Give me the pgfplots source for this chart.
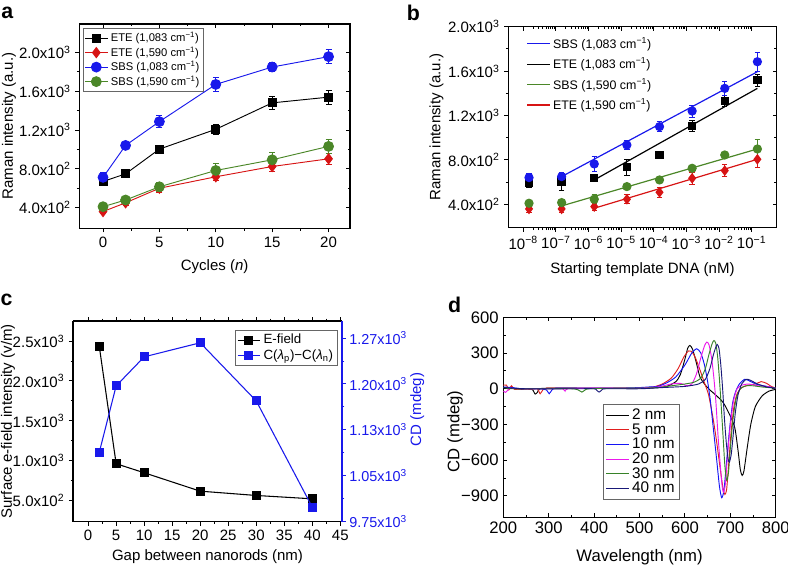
\documentclass[border=0pt]{standalone}
\usepackage{pgfplots}
\pgfplotsset{compat=1.18}
\usepackage{fontspec}
\setmainfont{Liberation Sans}
\definecolor{cred}{RGB}{215,20,20}
\definecolor{cblue}{RGB}{25,25,235}
\definecolor{cgreen}{RGB}{75,135,40}
\definecolor{dred}{RGB}{225,30,30}
\definecolor{dblue}{RGB}{20,20,245}
\definecolor{dmag}{RGB}{235,25,235}
\definecolor{dgreen}{RGB}{55,130,40}
\definecolor{dnavy}{RGB}{25,25,120}
\newcommand{\sups}[1]{\textsuperscript{#1}}
\newcommand{\fa}{\fontsize{11.25}{13.5}\selectfont}
\newcommand{\fd}{\fontsize{12.5}{15}\selectfont}
\pgfplotsset{
  base/.style={scale only axis, anchor=north west,
    /pgf/number format/assume math mode=true,
    major tick length=3pt, minor tick length=1.8pt,
    axis line style={line width=0.9pt},
    every tick/.style={black, line width=0.7pt},
    tick label style={font=\fa}, label style={font=\fa}},
  mirror/.style={base, xtick pos=right, ytick pos=right, tick align=inside,
    xticklabels={}, yticklabels={}, axis line style={draw=none}},
}
\begin{document}
\begin{tikzpicture}
\useasboundingbox (0,0) rectangle (591pt,-424.5pt);
% ---------------- panel a
\begin{axis}[base, at={(59.5pt,-18pt)}, width=203pt, height=153.2pt,
  xmin=-2.1, xmax=21.9, ymin=188, ymax=2291,
  xtick={0,5,10,15,20}, minor x tick num=1,
  ytick={400,800,1200,1600,2000}, minor y tick num=1,
  yticklabels={4.0x10\sups{2},8.0x10\sups{2},1.2x10\sups{3},1.6x10\sups{3},2.0x10\sups{3}},
  tick align=outside, xtick pos=left, ytick pos=left,
  xlabel={Cycles (\textit{n})}, ylabel={Raman intensity (a.u.)},
  xlabel style={at={(axis description cs:0.5,-0.189)}, anchor=center},
  ylabel style={at={(axis description cs:-0.26,0.5)}, anchor=center},
  legend style={at={(0.013,0.979)}, anchor=north west, font=\fontsize{8.4}{10}\selectfont,
    draw=black!60, inner sep=1pt, row sep=-1.5pt, cells={anchor=west}},
  every axis plot/.append style={line width=0.7pt},
  error bars/error bar style={line width=0.6pt},
  error bars/error mark options={rotate=90, mark size=2.2pt, line width=0.6pt},
]
\addplot[black, mark=square*, mark size=3pt, error bars/.cd, y dir=both, y explicit] coordinates {
 (0,670) +- (0,30) (2,748) +- (0,30) (5,1003) +- (0,40) (10,1207) +- (0,50) (15,1479) +- (0,70) (20,1538) +- (0,70)};
\addlegendentry{ETE (1,083 cm\sups{−1})}
\addplot[cred, mark=diamond*, mark size=3.8pt, error bars/.cd, y dir=both, y explicit] coordinates {
 (0,360) +- (0,20) (2,450) +- (0,25) (5,600) +- (0,40) (10,718) +- (0,40) (15,824) +- (0,50) (20,903) +- (0,60)};
\addlegendentry{ETE (1,590 cm\sups{−1})}
\addplot[cblue, mark=*, mark size=3.7pt, error bars/.cd, y dir=both, y explicit] coordinates {
 (0,712) +- (0,50) (2,1041) +- (0,35) (5,1286) +- (0,60) (10,1669) +- (0,70) (15,1848) +- (0,50) (20,1955) +- (0,70)};
\addlegendentry{SBS (1,083 cm\sups{−1})}
\addplot[cgreen, mark=*, mark size=3.7pt, error bars/.cd, y dir=both, y explicit] coordinates {
 (0,410) +- (0,25) (2,479) +- (0,30) (5,615) +- (0,50) (10,783) +- (0,70) (15,893) +- (0,80) (20,1031) +- (0,70)};
\addlegendentry{SBS (1,590 cm\sups{−1})}
\end{axis}
\begin{axis}[mirror, at={(59.5pt,-18pt)}, width=203pt, height=153.2pt,
  xmin=-2.1, xmax=21.9, ymin=188, ymax=2291,
  xtick={0,5,10,15,20}, minor x tick num=1,
  ytick={400,800,1200,1600,2000}, minor y tick num=1]
\end{axis}
% ---------------- panel b
\begin{axis}[base, at={(381.2pt,-20pt)}, width=201.3pt, height=150.75pt,
  xmode=log, xmin=3.47e-9, xmax=0.585, ymin=189, ymax=2000,
  xtick={1e-8,1e-7,1e-6,1e-5,1e-4,1e-3,1e-2,1e-1},
  xticklabels={10\sups{−8},10\sups{−7},10\sups{−6},10\sups{−5},10\sups{−4},10\sups{−3},10\sups{−2},10\sups{−1}},
  ytick={400,800,1200,1600,2000}, minor y tick num=1,
  yticklabels={4.0x10\sups{2},8.0x10\sups{2},1.2x10\sups{3},1.6x10\sups{3},2.0x10\sups{3}},
  tick align=outside, xtick pos=left, ytick pos=left,
  xlabel={Starting template DNA (nM)}, ylabel={Raman intensity (a.u.)},
  xlabel style={at={(axis description cs:0.5,-0.21)}, anchor=center},
  ylabel style={at={(axis description cs:-0.267,0.5)}, anchor=center},
  legend style={at={(0.052,0.975)}, anchor=north west, font=\fontsize{9.3}{11}\selectfont,
    draw=none, fill=none, row sep=1.5pt, cells={anchor=west}},
  every axis plot/.append style={line width=0.9pt},
  error bars/error bar style={line width=0.6pt},
  error bars/error mark options={rotate=90, mark size=2pt, line width=0.6pt},
]
\addplot[cblue] coordinates {(1.5e-7,649) (1.5e-1,1594)};
\addlegendentry{SBS (1,083 cm\sups{−1})}
\addplot[black] coordinates {(1.5e-6,619) (1.5e-1,1444)};
\addlegendentry{ETE (1,083 cm\sups{−1})}
\addplot[cgreen] coordinates {(1.5e-7,385) (1.5e-1,898)};
\addlegendentry{SBS (1,590 cm\sups{−1})}
\addplot[cred] coordinates {(1.5e-6,364) (1.5e-1,805)};
\addlegendentry{ETE (1,590 cm\sups{−1})}
\addplot[forget plot, only marks, cred, mark=diamond*, mark size=3.3pt, error bars/.cd, y dir=both, y explicit] coordinates {
 (1.5e-8,358) +- (0,30) (1.5e-7,358) +- (0,30) (1.5e-6,379) +- (0,30) (1.5e-5,445) +- (0,40)
 (1.5e-4,508) +- (0,45) (1.5e-3,634) +- (0,55) (1.5e-2,703) +- (0,55) (1.5e-1,805) +- (0,70)};
\addplot[forget plot, only marks, cgreen, mark=*, mark size=3pt, error bars/.cd, y dir=both, y explicit] coordinates {
 (1.5e-8,409) +- (0,30) (1.5e-7,415) +- (0,30) (1.5e-6,445) +- (0,40) (1.5e-5,559) +- (0,20)
 (1.5e-4,619) +- (0,20) (1.5e-3,724) +- (0,20) (1.5e-2,844) +- (0,25) (1.5e-1,898) +- (0,90)};
\addplot[forget plot, only marks, black, mark=square*, mark size=2.7pt, error bars/.cd, y dir=both, y explicit] coordinates {
 (1.5e-8,589) +- (0,40) (1.5e-7,604) +- (0,80) (1.5e-6,634) +- (0,30) (1.5e-5,733) +- (0,70)
 (1.5e-4,844) +- (0,30) (1.5e-3,1105) +- (0,50) (1.5e-2,1330) +- (0,50) (1.5e-1,1519) +- (0,55)};
\addplot[forget plot, only marks, cblue, mark=*, mark size=3pt, error bars/.cd, y dir=both, y explicit] coordinates {
 (1.5e-8,640) +- (0,40) (1.5e-7,649) +- (0,40) (1.5e-6,763) +- (0,70) (1.5e-5,934) +- (0,40)
 (1.5e-4,1099) +- (0,45) (1.5e-3,1240) +- (0,55) (1.5e-2,1444) +- (0,65) (1.5e-1,1684) +- (0,85)};
\end{axis}
\begin{axis}[mirror, at={(381.2pt,-20pt)}, width=201.3pt, height=150.75pt,
  xmode=log, xmin=3.47e-9, xmax=0.585, ymin=189, ymax=2000,
  xtick={1e-8,1e-7,1e-6,1e-5,1e-4,1e-3,1e-2,1e-1},
  ytick={400,800,1200,1600,2000}, minor y tick num=1]
\end{axis}
% ---------------- panel c
\begin{axis}[base, at={(54.75pt,-240.75pt)}, width=201.75pt, height=150.4pt,
  xmin=-2.7, xmax=45.3, ymin=236, ymax=2752,
  xtick={0,5,...,45}, minor x tick num=1,
  ytick={500,1000,1500,2000,2500}, minor y tick num=1,
  yticklabels={5.0x10\sups{2},1.0x10\sups{3},1.5x10\sups{3},2.0x10\sups{3},2.5x10\sups{3}},
  axis y line*=left, tick align=outside, xtick pos=both,
  xlabel={Gap between nanorods (nm)}, ylabel={Surface e-field intensity (v/m)},
  xlabel style={at={(axis description cs:0.5,-0.176)}, anchor=center},
  ylabel style={at={(axis description cs:-0.242,0.5)}, anchor=center},
]
\addplot[black, line width=0.8pt, mark=square*, mark size=3pt] coordinates {
 (2,2428) (5,961) (10,848) (20,617) (30,563) (40,521)};
\end{axis}
\begin{axis}[base, at={(54.75pt,-240.75pt)}, width=201.75pt, height=150.4pt,
  xmin=-2.7, xmax=45.3, ymin=0.975, ymax=1.3029,
  axis x line=none, axis y line*=right, tick align=outside,
  ytick={0.975,1.05,1.125,1.2,1.275}, minor y tick num=1,
  yticklabels={9.75x10\sups{3},1.05x10\sups{3},1.13x10\sups{3},1.20x10\sups{3},1.27x10\sups{3}},
  y axis line style={cblue, line width=0.9pt},
  ytick style={cblue, line width=0.7pt},
  yticklabel style={cblue, font=\fontsize{10.8}{13}\selectfont, xshift=-1pt},
  legend style={at={(0.983,0.955)}, anchor=north east, font=\fontsize{10}{12}\selectfont,
    draw=black!60, inner sep=1pt, row sep=-1pt, cells={anchor=west}},
]
\addlegendimage{black, line width=0.8pt, mark=square*, mark size=3pt}
\addlegendentry{E-field}
\addplot[cblue, line width=0.8pt, mark=square*, mark size=3pt] coordinates {
 (2,1.0886) (5,1.1968) (10,1.2443) (20,1.2673) (30,1.1722) (40,0.9984)};
\addlegendentry{C(\textit{λ}\textsubscript{p})−C(\textit{λ}\textsubscript{n})}
\end{axis}
\node[rotate=90, text=cblue, font=\fa] at (313pt,-307pt) {CD (mdeg)};
% ---------------- panel d
\begin{axis}[base, at={(377.5pt,-238pt)}, width=204.3pt, height=150pt,
  xmin=200, xmax=800, ymin=-1080, ymax=600,
  xtick={200,300,...,800}, minor x tick num=1,
  ytick={-900,-600,-300,0,300,600}, minor y tick num=1,
  yticklabels={−900,−600,−300,0,300,600},
  tick align=inside, tick label style={font=\fd}, label style={font=\fd},
  xlabel={Wavelength (nm)}, ylabel={CD (mdeg)},
  xlabel style={at={(axis description cs:0.5,-0.197)}, anchor=center},
  ylabel style={at={(axis description cs:-0.177,0.43)}, anchor=center},
  legend style={at={(0.367,0.567)}, anchor=north west, font=\fontsize{11.5}{12}\selectfont,
    draw=black!60, inner sep=1.5pt, row sep=-2.5pt, cells={anchor=west}},
  legend image post style={line width=0.8pt},
  every axis plot/.append style={line width=0.7pt, smooth, tension=0.4},
]
\addplot[black] coordinates {
 (200,10) (220,5) (240,-5) (260,0) (265,-10) (270,-45) (275,-30) (280,0) (300,5) (350,5) (400,3) (450,3) (500,5)
 (540,10) (560,20) (580,60) (590,120) (600,250) (606,340) (611,364) (617,330) (625,220) (633,100) (645,30)
 (655,-10) (670,-60) (685,-120) (700,-230) (710,-330) (717,-520) (722,-680) (726,-728) (730,-690) (737,-500)
 (745,-300) (755,-150) (770,-60) (785,-20) (800,-5)};
\addlegendentry{2 nm}
\addplot[dred] coordinates {
 (200,30) (207,30) (212,-10) (218,25) (225,-5) (240,0) (260,-5) (275,0) (281,-42) (287,-10) (295,5) (350,5)
 (400,5) (450,5) (500,5) (530,15) (550,40) (570,90) (585,170) (598,270) (608,318) (614,315) (622,270) (632,170)
 (642,60) (652,-50) (662,-250) (670,-450) (678,-680) (684,-840) (688,-888) (692,-840) (697,-600) (702,-350)
 (708,-150) (715,-40) (725,10) (740,30) (755,40) (768,60) (780,45) (790,20) (800,5)};
\addlegendentry{5 nm}
\addplot[dblue] coordinates {
 (200,15) (220,10) (240,0) (280,0) (295,-10) (301,-42) (307,-10) (315,5) (350,5) (400,5) (450,5) (500,10)
 (520,15) (540,20) (560,50) (580,100) (600,200) (615,300) (626,336) (635,300) (643,200) (650,60) (656,-100)
 (663,-350) (670,-600) (676,-820) (681,-915) (686,-850) (692,-600) (698,-350) (705,-120) (712,-20) (720,40)
 (732,80) (745,60) (760,35) (780,20) (800,5)};
\addlegendentry{10 nm}
\addplot[dmag] coordinates {
 (200,-20) (205,-30) (210,-10) (215,5) (230,0) (300,0) (330,0) (336,-20) (342,0) (400,5) (450,5) (500,5)
 (540,15) (570,40) (590,45) (605,25) (615,40) (625,120) (635,260) (643,360) (648,392) (653,370) (659,250)
 (664,80) (668,-100) (673,-400) (678,-650) (682,-820) (685,-870) (689,-800) (694,-550) (700,-300) (707,-100)
 (715,0) (725,30) (740,40) (760,25) (780,20) (800,5)};
\addlegendentry{20 nm}
\addplot[dgreen] coordinates {
 (200,10) (220,0) (280,0) (350,0) (365,-10) (373,-28) (380,-10) (390,0) (450,5) (500,5) (540,10) (570,25)
 (600,40) (620,55) (635,90) (645,170) (653,290) (660,380) (664,406) (668,380) (672,270) (676,80) (680,-150)
 (684,-400) (688,-650) (692,-770) (696,-700) (700,-500) (706,-250) (713,-80) (722,0) (735,25) (750,25)
 (770,15) (800,5)};
\addlegendentry{30 nm}
\addplot[dnavy] coordinates {
 (200,10) (250,0) (350,0) (400,0) (405,-10) (411,-28) (417,-10) (425,0) (500,0) (550,10) (600,20) (630,40)
 (645,80) (655,170) (663,290) (668,350) (671,372) (675,340) (679,200) (683,0) (687,-250) (691,-450) (695,-590)
 (698,-616) (702,-550) (706,-400) (711,-200) (717,-50) (725,40) (735,80) (745,70) (760,40) (780,15) (800,5)};
\addlegendentry{40 nm}
\end{axis}
% panel letters
\node[font=\fontsize{16}{16}\selectfont\bfseries] at (5.5pt,-10pt) {a};
\node[font=\fontsize{16}{16}\selectfont\bfseries] at (310pt,-9.5pt) {b};
\node[font=\fontsize{16}{16}\selectfont\bfseries] at (5pt,-225pt) {c};
\node[font=\fontsize{16}{16}\selectfont\bfseries] at (341pt,-229pt) {d};
\end{tikzpicture}
\end{document}
